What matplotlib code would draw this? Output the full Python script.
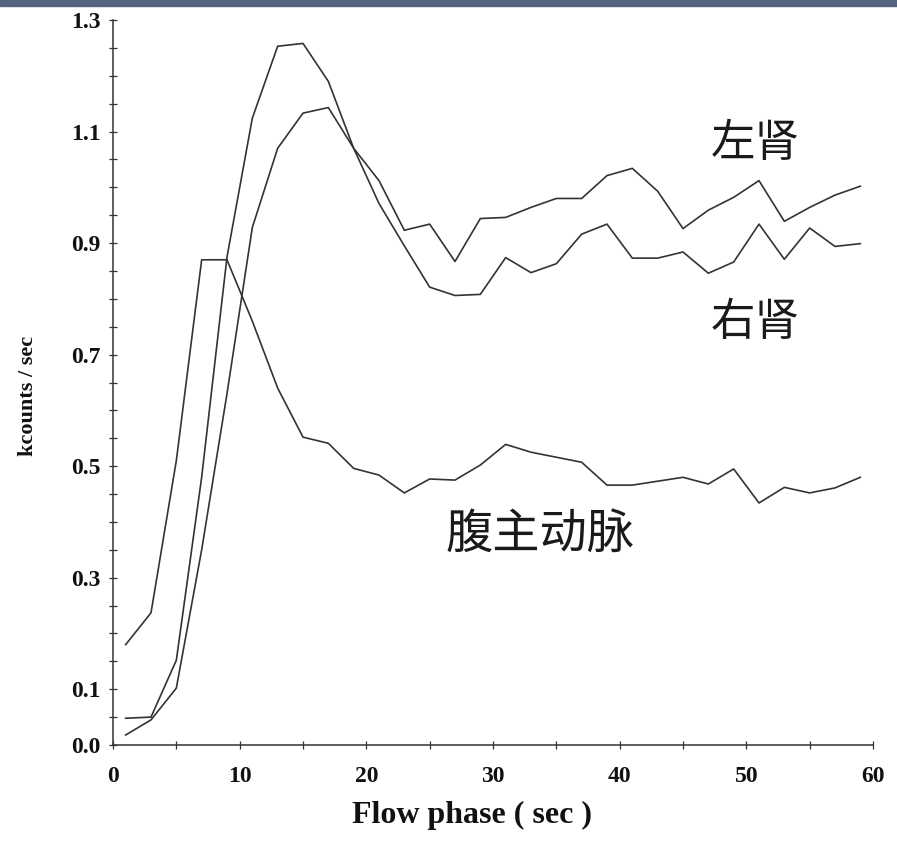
import numpy as np
import matplotlib.pyplot as plt
from matplotlib.patches import Rectangle

# time points (sec)
t = [1, 3, 5, 7, 9, 11, 13, 15, 17, 19, 21, 23, 25, 27, 29,
     31, 33, 35, 37, 39, 41, 43, 45, 47, 49, 51, 53, 55, 57, 59]

aorta = [0.18, 0.237, 0.51, 0.87, 0.87, 0.76, 0.64, 0.552, 0.541, 0.496,
         0.484, 0.452, 0.477, 0.475, 0.502, 0.539, 0.525, 0.516, 0.507, 0.466,
         0.466, 0.473, 0.480, 0.468, 0.495, 0.434, 0.462, 0.452, 0.461, 0.480]

left_kidney = [0.048, 0.05, 0.152, 0.48, 0.875, 1.124, 1.253, 1.258, 1.19, 1.07,
               1.012, 0.923, 0.934, 0.867, 0.944, 0.946, 0.964, 0.980, 0.980, 1.021,
               1.034, 0.993, 0.926, 0.959, 0.982, 1.012, 0.939, 0.964, 0.986, 1.002]

right_kidney = [0.018, 0.045, 0.102, 0.35, 0.63, 0.928, 1.07, 1.133, 1.143, 1.07,
                0.971, 0.895, 0.821, 0.806, 0.808, 0.874, 0.847, 0.863, 0.916, 0.934,
                0.873, 0.873, 0.884, 0.846, 0.866, 0.934, 0.871, 0.927, 0.894, 0.899]

ytick_vals = [0.0, 0.1, 0.3, 0.5, 0.7, 0.9, 1.1, 1.3]
xtick_vals = [0, 10, 20, 30, 40, 50, 60]

# name: (x, y, fontsize)
labels = {'左肾': (50.7, 1.08, 32), '右肾': (50.7, 0.758, 32), '腹主动脉': (33.7, 0.378, 34)}

serif = 'Liberation Serif'
cjk = ['Noto Sans CJK SC', 'DejaVu Sans']
ink = '#333333'

fig = plt.figure(figsize=(8.97, 8.58), dpi=100)
ax = fig.add_axes([113/897, 1-745/858, 760/897, 725/858])

for s in [left_kidney, right_kidney, aorta]:
    ax.plot(t, s, color=ink, lw=1.2)

ax.set_xlim(0, 60)
ax.set_ylim(0, 1.3)
ax.spines['top'].set_visible(False)
ax.spines['right'].set_visible(False)
for sp in ['left', 'bottom']:
    ax.spines[sp].set_color(ink)
    ax.spines[sp].set_linewidth(1.1)

ax.set_xticks(xtick_vals)
ax.set_xticks(np.arange(0, 61, 5), minor=True)
ax.set_yticks(ytick_vals)
ax.set_yticks(np.arange(0, 1.31, 0.05), minor=True)
ax.set_xticklabels([str(v) for v in xtick_vals])
ax.set_yticklabels(['%.1f' % v for v in ytick_vals])
ax.tick_params(which='both', direction='inout', length=6, width=0.9, color=ink)
ax.tick_params(axis='x', pad=12)
ax.tick_params(axis='y', pad=6)
for lab in ax.get_xticklabels() + ax.get_yticklabels():
    lab.set_fontfamily(serif)
    lab.set_fontweight('bold')
    lab.set_fontsize(17)
    lab.set_color('#111111')

fig.text(472/897, 1-815/858, 'Flow phase ( sec )', ha='center', va='center',
         family=serif, weight='bold', fontsize=23, color='#111111')
fig.text(28/897, 1-396/858, 'kcounts / sec', ha='center', va='center', rotation=90,
         family=serif, weight='bold', fontsize=16, color='#111111')

for txt, (x, y, fs) in labels.items():
    ax.text(x, y, txt, ha='center', va='center', family=cjk, weight='light',
            fontsize=fs, color='#1a1a1a')

# dark band at the top edge
fig.patches.append(Rectangle((0, 1-6/858), 1, 6/858, transform=fig.transFigure,
                             color='#56657f', zorder=5))

fig.savefig('out.png', dpi=100)
